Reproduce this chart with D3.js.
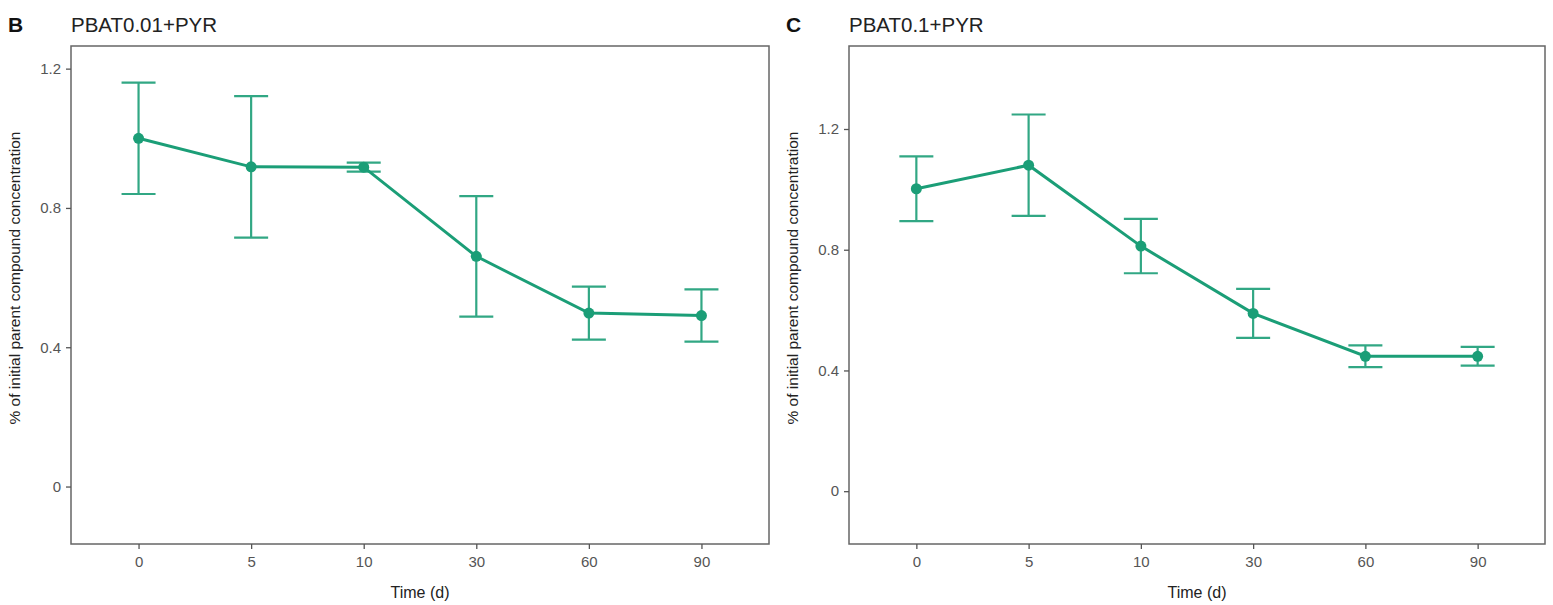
<!DOCTYPE html>
<html>
<head>
<meta charset="utf-8">
<script src="https://cdn.jsdelivr.net/npm/d3@7"></script>
<style>
  body { margin: 0; background: #fff; }
  text { font-family: "Liberation Sans", Arial, sans-serif; }
</style>
</head>
<body>
<svg id="chart" width="1553" height="605"></svg>
<script>
"use strict";
// time points (categorical)
var days = ["0", "5", "10", "30", "60", "90"];

// panel B: PBAT0.01+PYR
var meanB = [1.00, 0.918, 0.917, 0.661, 0.498, 0.491];
var errB  = [0.160, 0.203, 0.013, 0.173, 0.076, 0.075];

// panel C: PBAT0.1+PYR
var meanC = [1.002, 1.080, 0.812, 0.589, 0.447, 0.447];
var errC  = [0.107, 0.168, 0.090, 0.081, 0.036, 0.031];

var yTicks = [0, 0.4, 0.8, 1.2];

var green = "#1b9e77";
var svg = d3.select("#chart");

function panel(opts) {
    var x = d3.scalePoint()
        .domain(days)
        .range([opts.left, opts.right])
        .padding(0.6);

    // ggplot-like 5% expansion around the limits
    var lo = opts.ylim[0], hi = opts.ylim[1], pad = (hi - lo) * 0.05;
    var y = d3.scaleLinear()
        .domain([lo - pad, hi + pad])
        .range([opts.bottom, opts.top]);

    var g = svg.append("g");

    var data = days.map(function(d, i) {
        return {day: d, mean: opts.mean[i], err: opts.err[i]};
    });

    // error bars
    var eb = g.selectAll("g.eb")
        .data(data)
        .enter().append("g")
        .attr("class", "eb")
        .attr("stroke", green)
        .attr("stroke-width", 2.2)
        .attr("opacity", 0.9);

    eb.append("line")
        .attr("x1", function(d) { return x(d.day); })
        .attr("x2", function(d) { return x(d.day); })
        .attr("y1", function(d) { return y(d.mean - d.err); })
        .attr("y2", function(d) { return y(d.mean + d.err); });

    [-1, 1].forEach(function(s) {
        eb.append("line")
            .attr("x1", function(d) { return x(d.day) - 17; })
            .attr("x2", function(d) { return x(d.day) + 17; })
            .attr("y1", function(d) { return y(d.mean + s * d.err); })
            .attr("y2", function(d) { return y(d.mean + s * d.err); });
    });

    // mean line
    var line = d3.line()
        .x(function(d) { return x(d.day); })
        .y(function(d) { return y(d.mean); });

    g.append("path")
        .datum(data)
        .attr("d", line)
        .attr("fill", "none")
        .attr("stroke", green)
        .attr("stroke-width", 3);

    g.selectAll("circle")
        .data(data)
        .enter().append("circle")
        .attr("cx", function(d) { return x(d.day); })
        .attr("cy", function(d) { return y(d.mean); })
        .attr("r", 5.5)
        .attr("fill", green);

    // panel border
    g.append("rect")
        .attr("x", opts.left)
        .attr("y", opts.top)
        .attr("width", opts.right - opts.left)
        .attr("height", opts.bottom - opts.top)
        .attr("fill", "none")
        .attr("stroke", "#666")
        .attr("stroke-width", 1.5);

    // axes
    var xAxis = g.append("g")
        .attr("transform", "translate(0," + opts.bottom + ")")
        .call(d3.axisBottom(x).tickSize(5).tickPadding(7));
    var yAxis = g.append("g")
        .attr("transform", "translate(" + opts.left + ",0)")
        .call(d3.axisLeft(y).tickValues(yTicks).tickFormat(d3.format("~g")).tickSize(5).tickPadding(5));

    [xAxis, yAxis].forEach(function(a) {
        a.select(".domain").remove();
        a.selectAll(".tick line").attr("stroke", "#555").attr("stroke-width", 1.3);
        a.selectAll(".tick text")
            .attr("fill", "#555")
            .style("font-size", "15px")
            .style("font-family", "'Liberation Sans', Arial, sans-serif");
    });

    // axis titles
    g.append("text")
        .attr("x", (opts.left + opts.right) / 2)
        .attr("y", 598)
        .attr("text-anchor", "middle")
        .style("font-size", "16px")
        .attr("fill", "#222")
        .text("Time (d)");

    g.append("text")
        .attr("transform", "translate(" + (opts.left - 51) + "," + 278 + ") rotate(-90)")
        .attr("text-anchor", "middle")
        .style("font-size", "15.5px")
        .attr("fill", "#222")
        .text("% of initial parent compound concentration");

    // panel letter and title
    g.append("text")
        .attr("x", opts.letterX)
        .attr("y", 32)
        .style("font-size", "21px")
        .style("font-weight", "bold")
        .attr("fill", "#111")
        .text(opts.letter);

    g.append("text")
        .attr("x", opts.left)
        .attr("y", 32)
        .style("font-size", "20.5px")
        .attr("fill", "#222")
        .text(opts.title);
}

panel({left: 71, right: 769, top: 46, bottom: 544, ylim: [-0.1, 1.2],
       mean: meanB, err: errB, letter: "B", letterX: 8, title: "PBAT0.01+PYR"});
panel({left: 849, right: 1545, top: 46, bottom: 544, ylim: [-0.1, 1.4],
       mean: meanC, err: errC, letter: "C", letterX: 786, title: "PBAT0.1+PYR"});
</script>
</body>
</html>
